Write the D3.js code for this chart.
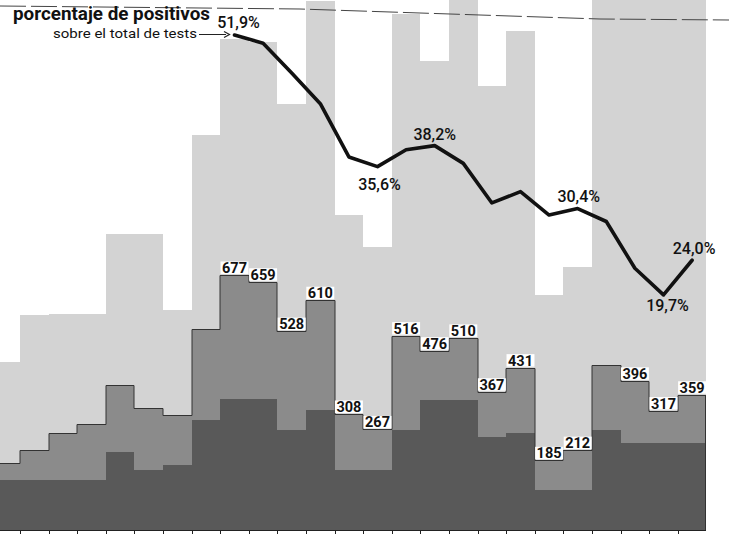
<!DOCTYPE html>
<html><head><meta charset="utf-8">
<script src="https://cdn.jsdelivr.net/npm/d3@7"></script>
<style>html,body{margin:0;padding:0;background:#fff}svg{display:block}</style>
</head><body>
<svg id="c" width="729" height="534"></svg>
<script>
// ---- data ----
const periods   = ["1","2","3","4","5","6","7","8","9","10","11","12","13","14","15","16","17","18","19","20","21","22","23","24","25"];
const tests     = [446,571,573,573,786,786,584,1049,1304,1295,1130,1405,837,750,1369,1246,1417,1180,1326,625,697,1520,1722,1609,1496];
const positives = [178,212,257,281,385,324,305,534,677,659,528,610,308,267,516,476,510,367,431,185,212,438,396,317,359];
const subset    = [133,133,133,133,207,159,172,292,348,348,265,318,159,159,265,345,345,247,257,106,106,265,231,231,231];
const pctPositive = [null,null,null,null,null,null,null,null,51.9,50.9,47.2,43.4,36.8,35.6,37.7,38.2,36.0,31.1,32.5,29.6,30.4,28.8,23.0,19.7,24.0];
const positiveLabels = [null,null,null,null,null,null,null,null,"677","659","528","610","308","267","516","476","510","367","431","185","212",null,"396","317","359"];
const pctLabels = [null,null,null,null,null,null,null,null,"51,9%",null,null,null,null,"35,6%",null,"38,2%",null,null,null,null,"30,4%",null,null,"19,7%","24,0%"];
const titleText = "porcentaje de positivos";
const subtitleText = "sobre el total de tests";

// ---- layout ----
const svg = d3.select("#c");
const x = d3.scaleBand().domain(periods).range([-8.6, 706.4]).padding(0);
const y = d3.scaleLinear().domain([0, 1407]).range([530, 0]);
const yp = d3.scaleLinear().domain([0, 56.25]).range([453.9, 0]);

const rows = periods.map((p, i) => ({p, i, tests: tests[i], pos: positives[i], sub: subset[i],
  pct: pctPositive[i], lab: positiveLabels[i], plab: pctLabels[i]}));

const bx0 = d => Math.round(x(d.p));
const bx1 = d => Math.round(x(d.p) + x.bandwidth());

function layer(cls, key, fill) {
  g.selectAll("rect." + cls).data(rows).join("rect").attr("class", cls)
    .attr("x", bx0).attr("width", d => bx1(d) - bx0(d))
    .attr("y", d => Math.round(y(d[key]))).attr("height", d => Math.round(y(0)) - Math.round(y(d[key])))
    .attr("fill", fill).attr("shape-rendering", "crispEdges");
}
const g = svg.append("g");
layer("t", "tests", "#d3d3d3");
layer("p", "pos", "#8b8b8b");
layer("s", "sub", "#595959");

// outline of positives profile
const pts = [];
rows.forEach(d => { pts.push([bx0(d), Math.round(y(d.pos)) + 0.5]); pts.push([bx1(d), Math.round(y(d.pos)) + 0.5]); });
const last = rows[rows.length - 1];
pts.push([bx1(last) - 0.5, Math.round(y(last.pos)) + 0.5]);
pts.push([bx1(last) - 0.5, y(0)]);
g.append("path").attr("d", d3.line()(pts)).attr("fill","none").attr("stroke","#333").attr("stroke-width",1);

// baseline and ticks
g.append("line").attr("x1",0).attr("x2",bx1(last)).attr("y1",y(0)+0.5).attr("y2",y(0)+0.5)
  .attr("stroke","#222").attr("stroke-width",1);
g.selectAll("line.tk").data(rows.slice(1)).join("line").attr("class","tk")
  .attr("x1", d => bx0(d)+0.5).attr("x2", d => bx0(d)+0.5).attr("y1", y(0)).attr("y2", y(0)+4)
  .attr("stroke","#222").attr("stroke-width",1);

// top dashed rule
svg.append("path").attr("d", d3.line()([[0,6],[300,9],[480,15],[600,19],[729,20]]))
  .attr("fill","none").attr("stroke","#444").attr("stroke-width",1).attr("stroke-dasharray","26,5");

// percentage line
const lineData = rows.filter(d => d.pct != null);
svg.append("path").datum(lineData)
  .attr("d", d3.line().x(d => x(d.p) + x.bandwidth()/2).y(d => yp(d.pct)))
  .attr("fill","none").attr("stroke","#111").attr("stroke-width",3.6)
  .attr("stroke-linejoin","round").attr("stroke-linecap","round");

// positive count labels with white boxes
const labG = svg.append("g").attr("font-family","Roboto, 'Noto Sans', sans-serif")
  .attr("font-weight","700").attr("font-size","14.5px").attr("fill","#111");
rows.filter(d => d.lab).forEach(d => {
  const cx = x(d.p) + x.bandwidth()/2, by = y(d.pos) - 2;
  const t = labG.append("text").attr("x", cx).attr("y", by).attr("text-anchor","middle").text(d.lab);
  const bb = t.node().getBBox();
  labG.insert("rect", () => t.node()).attr("x", bb.x-1.5).attr("y", by-11.5).attr("width", bb.width+3).attr("height", 12.5)
    .attr("fill","#fff");
});

// percentage labels
const place = {8:[4,-7], 13:[2,23], 15:[0,-6], 20:[1,-7], 23:[4,16], 24:[2,-6]};
const pG = svg.append("g").attr("font-family","Roboto, 'Noto Sans', sans-serif")
  .attr("font-weight","500").attr("font-size","16px").attr("fill","#111");
rows.filter(d => d.plab).forEach(d => {
  const o = place[d.i];
  pG.append("text").attr("x", x(d.p) + x.bandwidth()/2 + o[0]).attr("y", yp(d.pct) + o[1])
    .attr("text-anchor","middle").text(d.plab);
});

// title + subtitle + arrow
svg.append("text").attr("x",13).attr("y",20).attr("font-family","Roboto, sans-serif").attr("font-weight","700")
  .attr("font-size","18px").attr("fill","#111").attr("textLength",197).attr("lengthAdjust","spacingAndGlyphs").text(titleText);
svg.append("text").attr("x",53).attr("y",38).attr("font-family","Roboto, sans-serif").attr("font-weight","400")
  .attr("font-size","13.5px").attr("fill","#111").attr("textLength",144).attr("lengthAdjust","spacingAndGlyphs").text(subtitleText);
svg.append("line").attr("x1",199).attr("x2",226).attr("y1",34.5).attr("y2",34.5).attr("stroke","#222").attr("stroke-width",1);
svg.append("path").attr("d","M224,31.5 L229.5,34.5 L224,37.5").attr("fill","none").attr("stroke","#222").attr("stroke-width",1.2);
</script>
</body></html>
